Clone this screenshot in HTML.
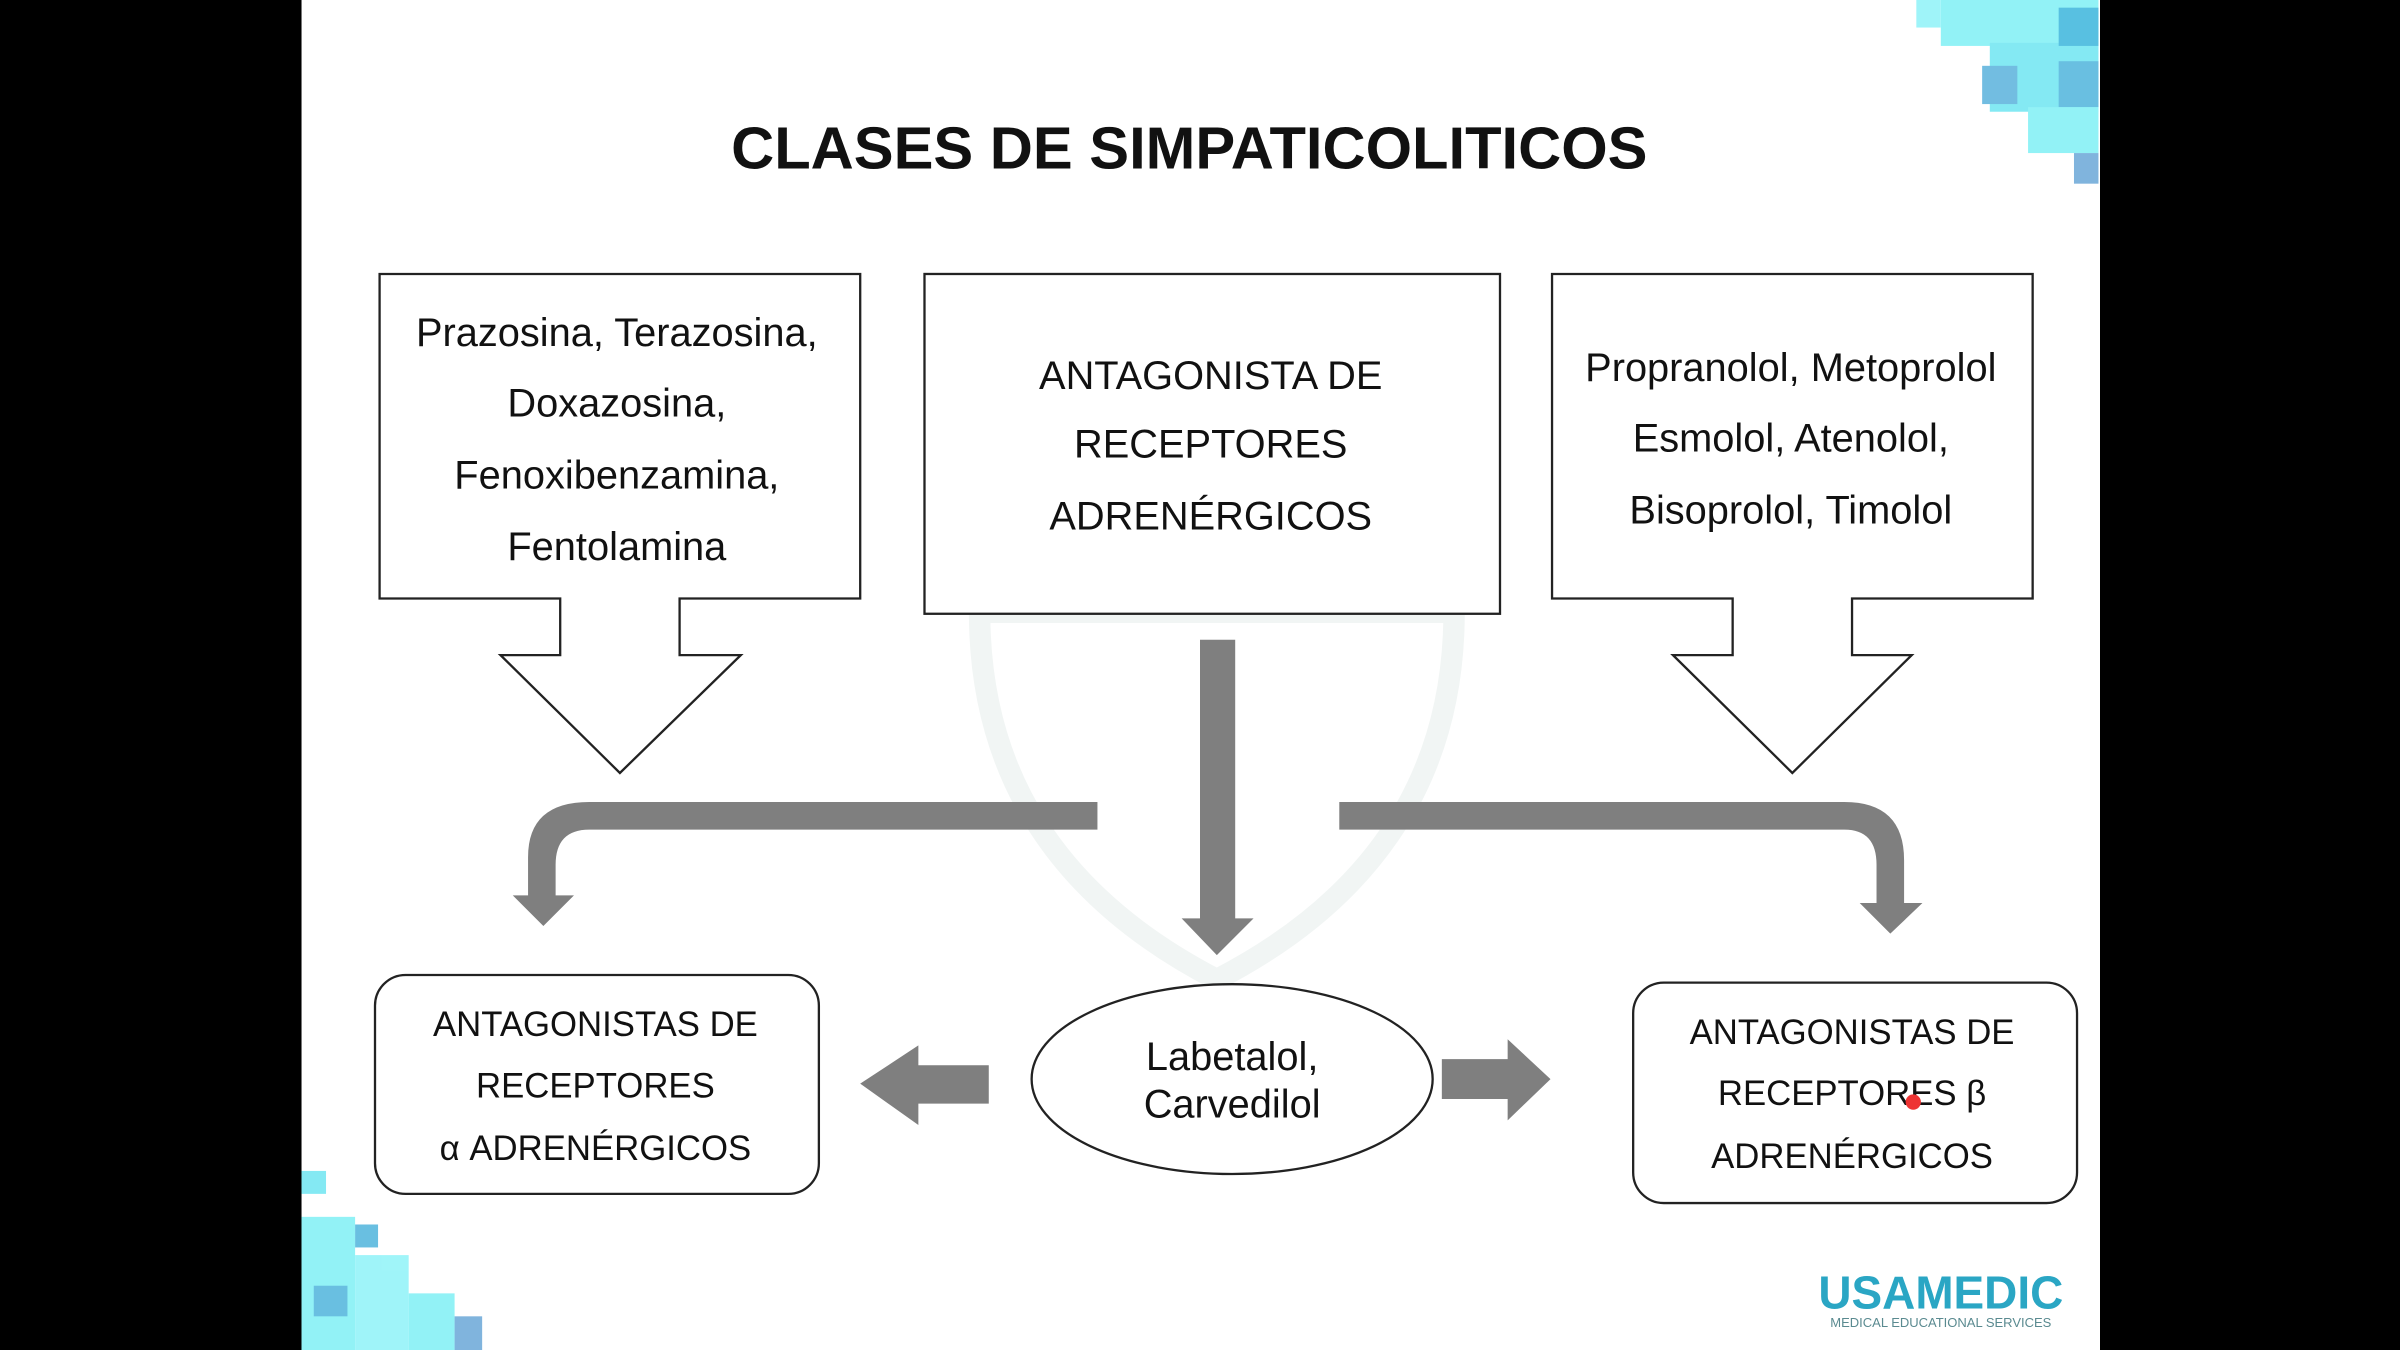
<!DOCTYPE html>
<html><head><meta charset="utf-8"><style>
html,body{margin:0;padding:0;background:#000;width:2400px;height:1350px;overflow:hidden}
svg{display:block}
text{font-family:"Liberation Sans",sans-serif;fill:#111}
</style></head><body>
<svg width="2400" height="1350" viewBox="0 0 1568 882" preserveAspectRatio="none" xmlns="http://www.w3.org/2000/svg">
<rect x="0" y="0" width="1568" height="882" fill="#000"/>
<rect x="197" y="0" width="1175" height="882" fill="#fff"/>
<path d="M640 400 L950 400 Q950 560 795 640 Q640 560 640 400Z" fill="none" stroke="#f1f5f4" stroke-width="14"/>
<g opacity="0.85">
<rect x="1268" y="0" width="103" height="30" fill="#7ff0f5"/>
<rect x="1300" y="28" width="71" height="45" fill="#6fe6f2"/>
<rect x="1345" y="5" width="26" height="25" fill="#3bb6dc"/>
<rect x="1345" y="40" width="26" height="30" fill="#4fb4dc"/>
<rect x="1295" y="43" width="23" height="25" fill="#5ab2dc"/>
<rect x="1325" y="70" width="46" height="30" fill="#7ff0f5"/>
<rect x="1355" y="100" width="16" height="20" fill="#6aa8d8"/>
<rect x="1252" y="0" width="16" height="18" fill="#8ff3f8"/>
</g>
<g opacity="0.85">
<rect x="197" y="765" width="16" height="15" fill="#6fe6f2"/>
<rect x="197" y="795" width="35" height="87" fill="#7ff0f5"/>
<rect x="232" y="800" width="15" height="15" fill="#4fb4dc"/>
<rect x="232" y="820" width="35" height="62" fill="#8ff3f8"/>
<rect x="267" y="845" width="30" height="37" fill="#7ff0f5"/>
<rect x="297" y="860" width="18" height="22" fill="#6aa8d8"/>
<rect x="205" y="840" width="22" height="20" fill="#4fb4dc"/>
</g>
<text x="777" y="110" text-anchor="middle" font-size="39" font-weight="bold">CLASES DE SIMPATICOLITICOS</text>

<path d="M248 179 H562 V391 H444 V428 H484 L405 505 L327 428 H366 V391 H248Z" fill="#fff" stroke="#222" stroke-width="1.5"/>
<g font-size="26" text-anchor="middle">
<text x="403" y="226">Prazosina, Terazosina,</text>
<text x="403" y="272">Doxazosina,</text>
<text x="403" y="319">Fenoxibenzamina,</text>
<text x="403" y="366">Fentolamina</text>
</g>
<rect x="604" y="179" width="376" height="222" fill="#fff" stroke="#222" stroke-width="1.5"/>
<g font-size="26" text-anchor="middle">
<text x="791" y="254">ANTAGONISTA DE</text>
<text x="791" y="299">RECEPTORES</text>
<text x="791" y="346">ADRENÉRGICOS</text>
</g>
<path d="M1014 179 H1328 V391 H1210 V428 H1249 L1171 505 L1093 428 H1132 V391 H1014Z" fill="#fff" stroke="#222" stroke-width="1.5"/>
<g font-size="26" text-anchor="middle">
<text x="1170" y="249">Propranolol, Metoprolol</text>
<text x="1170" y="295">Esmolol, Atenolol,</text>
<text x="1170" y="342">Bisoprolol, Timolol</text>
</g>

<g fill="#7f7f7f">
<path d="M717 524 V542 H385 Q363 542 363 565 V585 H375 L355 605 L335 585 H345 V560 Q345 524 385 524Z"/>
<path d="M784 418 H807 V600 H819 L795 624 L772 600 H784Z"/>
<path d="M875 524 H1205 Q1244 524 1244 562 V590 H1256 L1235 610 L1215 590 H1226 V565 Q1226 542 1205 542 H875Z"/>
<path d="M646 696 V721 H600 V735 L562 708 L600 683 V696Z"/>
<path d="M942 692 H985 V679 L1013 705 L985 732 V718 H942Z"/>
</g>

<ellipse cx="805" cy="705" rx="131" ry="62" fill="#fff" stroke="#222" stroke-width="1.5"/>
<g font-size="26" text-anchor="middle">
<text x="805" y="699">Labetalol,</text>
<text x="805" y="730">Carvedilol</text>
</g>
<rect x="245" y="637" width="290" height="143" rx="20" fill="#fff" stroke="#222" stroke-width="1.5"/>
<g font-size="22.7" text-anchor="middle">
<text x="389" y="677">ANTAGONISTAS DE</text>
<text x="389" y="717">RECEPTORES</text>
<text x="389" y="758">α ADRENÉRGICOS</text>
</g>
<rect x="1067" y="642" width="290" height="144" rx="20" fill="#fff" stroke="#222" stroke-width="1.5"/>
<g font-size="22.7" text-anchor="middle">
<text x="1210" y="682">ANTAGONISTAS DE</text>
<text x="1210" y="722">RECEPTORES β</text>
<text x="1210" y="763">ADRENÉRGICOS</text>
</g>
<circle cx="1250" cy="720" r="5" fill="#e33"/>

<text x="1268" y="855" text-anchor="middle" font-size="30" font-weight="bold" style="fill:#2aa6c4">USAMEDIC</text>
<text x="1268" y="867" text-anchor="middle" font-size="8.5" style="fill:#5a8a90">MEDICAL EDUCATIONAL SERVICES</text>
</svg>
</body></html>
